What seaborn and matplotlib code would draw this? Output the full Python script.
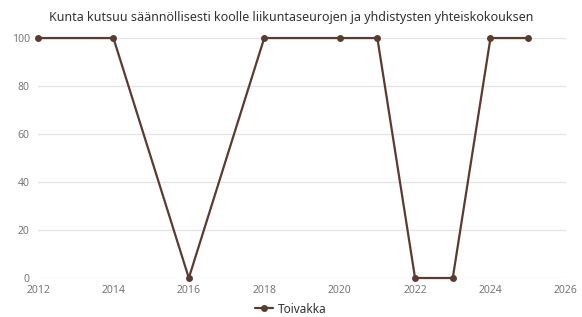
import pandas as pd
import seaborn as sns
import matplotlib.pyplot as plt
from matplotlib.lines import Line2D

years = [2012, 2014, 2016, 2018, 2020, 2021, 2022, 2023, 2024, 2025]
values = [100, 100, 0, 100, 100, 100, 0, 0, 100, 100]
series_name = 'Toivakka'
title = 'Kunta kutsuu säännöllisesti koolle liikuntaseurojen ja yhdistysten yhteiskokouksen'

df = pd.DataFrame({'Vuosi': years, 'Arvo': values, 'Kunta': series_name})

sns.set_style('white')
plt.rcParams['font.family'] = ['Noto Sans', 'DejaVu Sans']

fig = plt.figure(figsize=(5.82, 3.17), dpi=100)
ax = fig.add_axes([0.0653, 0.123, 0.907, 0.757])

sns.lineplot(data=df, x='Vuosi', y='Arvo', hue='Kunta', palette=['#5b3a30'],
             marker='o', markersize=5, markeredgewidth=0, linewidth=1.6, ax=ax, legend=False)
for ln in ax.lines:
    ln.set_clip_on(False)

ax.set_xlim(2012, 2026)
ax.set_ylim(0, 100)
ax.set_xticks(range(2012, 2027, 2))
ax.set_yticks(range(0, 101, 20))
ax.set_xlabel('')
ax.set_ylabel('')
ax.grid(axis='y', color='#e3e3e3', linewidth=0.9)
ax.set_axisbelow(True)
for s in ax.spines.values():
    s.set_visible(False)
ax.tick_params(axis='both', length=0, labelsize=7.5, colors='#777777')
ax.tick_params(axis='x', pad=5)
ax.tick_params(axis='y', pad=6)

fig.text(0.5, 0.945, title, ha='center', va='center', fontsize=9, color='#333333')

handle = Line2D([], [], color='#5b3a30', marker='o', markersize=5, linewidth=1.6, markeredgewidth=0)
leg = fig.legend([handle], [series_name], loc='center', bbox_to_anchor=(0.5, 0.025), frameon=False,
                 fontsize=8.5, handlelength=1.5, handletextpad=0.4)
for t in leg.get_texts():
    t.set_color('#333333')

fig.savefig('out.png', dpi=100)
